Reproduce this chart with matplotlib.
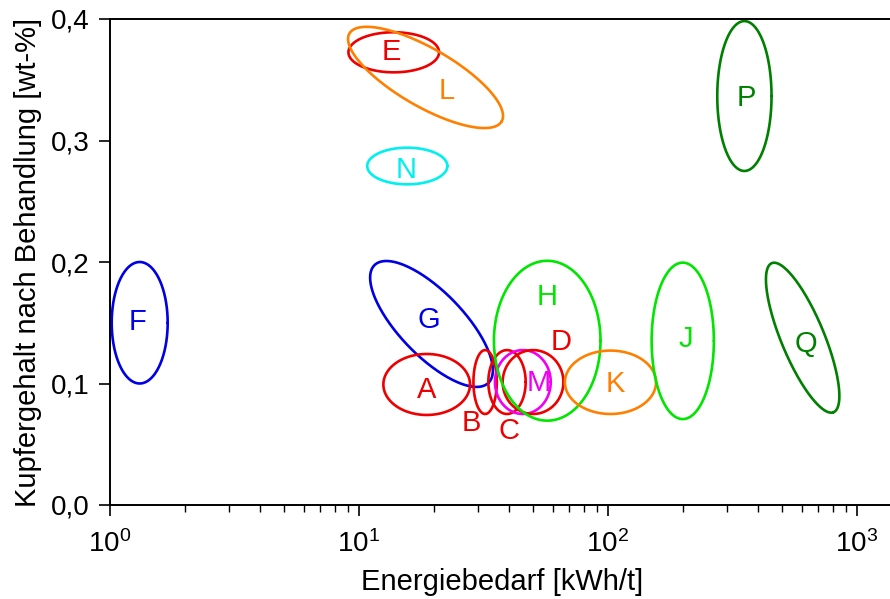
import numpy as np
import matplotlib
matplotlib.use("Agg")
import matplotlib.pyplot as plt
from matplotlib.ticker import LogLocator, FixedLocator, FixedFormatter

plt.rcParams['font.family'] = ['Liberation Sans', 'DejaVu Sans']

# Verfahren: Mittelpunkt (Energie kWh/t, Cu wt-%), halbe Breite in Dekaden,
# halbe Höhe in wt-%, Drehwinkel in Grad
namen = ['F', 'E', 'L', 'N', 'G', 'A', 'B', 'C', 'M', 'D', 'H', 'K', 'J', 'P', 'Q']
energie = [1.316, 13.79, 18.5, 15.63, 19.55, 18.7, 32.1, 39.3, 45.5, 50.0,
           57.0, 102.3, 199.6, 353.0, 605.0]
kupfer = [0.15, 0.3726, 0.3519, 0.279, 0.149, 0.0992, 0.1012, 0.1012, 0.1012,
          0.1012, 0.1352, 0.101, 0.1351, 0.3366, 0.1377]
halb_breite = [0.1124, 0.182, 0.353, 0.161, 0.329, 0.174, 0.047, 0.075, 0.112,
               0.122, 0.214, 0.183, 0.125, 0.109, 0.324]
halb_hoehe = [0.05, 0.0165, 0.0239, 0.0151, 0.0263, 0.0251, 0.0263, 0.0263,
              0.0263, 0.0263, 0.0658, 0.0261, 0.0644, 0.0617, 0.0177]
winkel = [0, 0, -30, 0, -46, 0, 0, 0, 0, 0, 0, 0, 0, 0, -67.5]
farben = ['#0000e6', '#ee0000', '#ff8000', '#00f0f0', '#0000e6', '#ee0000',
          '#ee0000', '#ee0000', '#f000f0', '#ee0000', '#00e600', '#ff8000',
          '#00e600', '#008000', '#008000']

# Position der Buchstaben
text_x = [1.295, 13.5, 22.6, 15.42, 19.06, 18.76, 28.2, 40.0, 52.7, 65.0,
          57.1, 107.4, 206.3, 360.6, 622.7]
text_y = [0.1506, 0.3728, 0.341, 0.276, 0.1525, 0.0947, 0.0672, 0.0612, 0.1004,
          0.1344, 0.171, 0.0996, 0.1366, 0.3347, 0.1325]

y_ticks = [0.0, 0.1, 0.2, 0.3, 0.4]
y_ticklabels = ['0,0', '0,1', '0,2', '0,3', '0,4']

fig = plt.figure(figsize=(8.9, 5.99), dpi=100)
ax = fig.add_axes([110 / 890, 94 / 599, 785 / 890, 486 / 599])
ax.set_xscale('log')
ax.set_xlim(1, 10 ** (785 / 249))
ax.set_ylim(0, 0.4)


def ellipse_punkte(cx, cy, hw, hh, w):
    """Ellipse in Bildschirmkoordinaten (log-x) -> Datenkoordinaten."""
    x0, y0 = ax.transData.transform((cx, cy))
    px_dek = ax.transData.transform((cx * 10, cy))[0] - x0
    px_y = ax.transData.transform((cx, cy + 0.1))[1] - y0
    a = hw * px_dek
    b = hh * px_y * 10
    t = np.linspace(0, 2 * np.pi, 300)
    r = np.radians(w)
    xs = x0 + a * np.cos(t) * np.cos(r) - b * np.sin(t) * np.sin(r)
    ys = y0 + a * np.cos(t) * np.sin(r) + b * np.sin(t) * np.cos(r)
    return ax.transData.inverted().transform(np.column_stack([xs, ys]))


for i in range(len(namen)):
    pts = ellipse_punkte(energie[i], kupfer[i], halb_breite[i], halb_hoehe[i], winkel[i])
    ax.plot(pts[:, 0], pts[:, 1], color=farben[i], lw=1.9, clip_on=False,
            solid_capstyle='round', solid_joinstyle='round')
    ax.text(text_x[i], text_y[i], namen[i], color=farben[i], fontsize=21,
            ha='center', va='center')

ax.yaxis.set_major_locator(FixedLocator(y_ticks))
ax.yaxis.set_major_formatter(FixedFormatter(y_ticklabels))
ax.xaxis.set_major_locator(LogLocator(base=10))
ax.xaxis.set_minor_locator(LogLocator(base=10, subs=np.arange(2, 10)))

ax.spines['right'].set_visible(False)
for s in ['left', 'bottom', 'top']:
    ax.spines[s].set_linewidth(1.4)
ax.tick_params(which='major', direction='out', length=8, width=1.2, labelsize=20)
ax.tick_params(which='minor', direction='out', length=5, width=1.0)
ax.tick_params(axis='y', pad=7)
ax.tick_params(axis='x', which='major', pad=10)

ax.set_xlabel('Energiebedarf [kWh/t]', fontsize=21, labelpad=7)
ax.set_ylabel('Kupfergehalt nach Behandlung [wt-%]', fontsize=21, labelpad=6)

fig.savefig('out.png', dpi=100)
